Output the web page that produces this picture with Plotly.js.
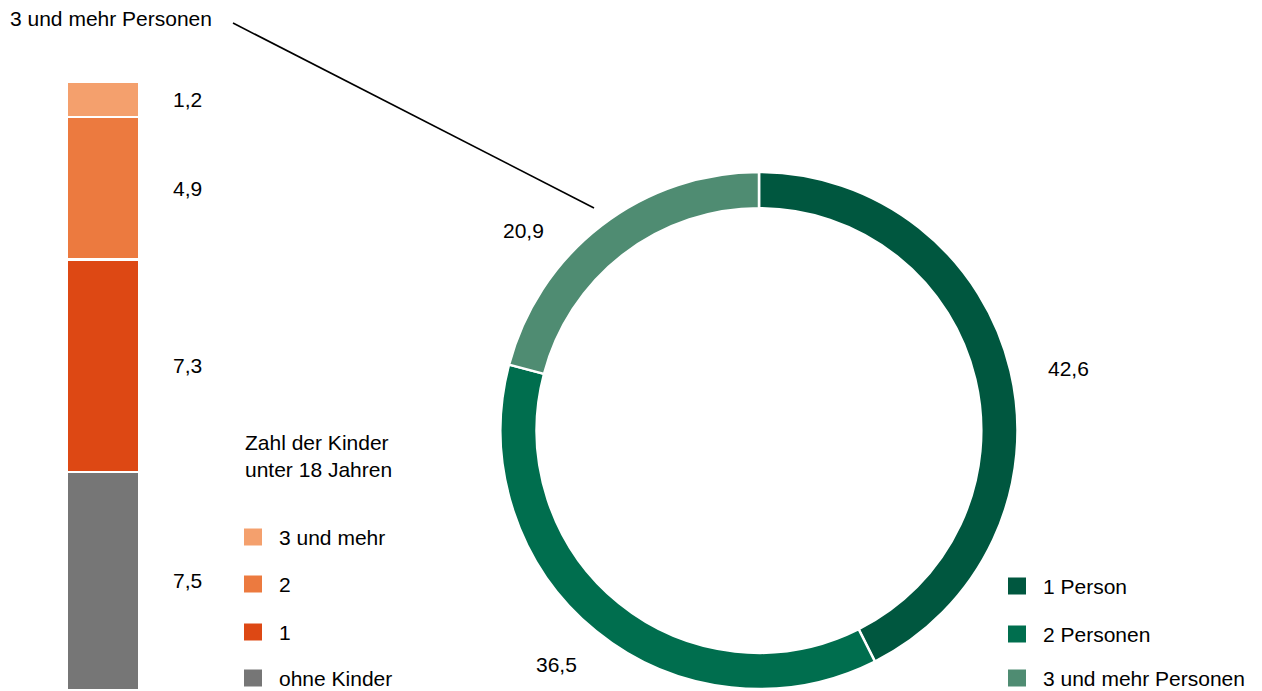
<!DOCTYPE html>
<html>
<head>
<meta charset="utf-8">
<script src="https://cdn.plot.ly/plotly-3.0.1.min.js"></script>
<style>html,body{margin:0;padding:0;background:#fff}#chart{width:1262px;height:691px}</style>
</head>
<body>
<div id="chart"></div>
<script>
// ---- data ----
const childCategories = ["ohne Kinder", "1", "2", "3 und mehr"];
const childValues = [7.5, 7.3, 4.9, 1.2];
const childColors = ["#767676", "#DD4814", "#EC7A3F", "#F4A06D"];
const childLegendTitle = "Zahl der Kinder<br>unter 18 Jahren";

const hhCategories = ["1 Person", "2 Personen", "3 und mehr Personen"];
const hhValues = [42.6, 36.5, 20.9];
const hhColors = ["#00573F", "#006E4E", "#4F8C72"];
const calloutLabel = "3 und mehr Personen";

// ---- layout helpers ----
const W = 1262, H = 691;
const FONT = "Liberation Sans, Arial, sans-serif";
const FS = 21;
const px = x => x / W;
const py = y => 1 - y / H;
const fmt = v => v.toFixed(1).replace(".", ",");

const traces = [];
// stacked bar
childCategories.forEach((c, i) => {
  traces.push({
    type: "bar", x: [0], y: [childValues[i]], name: c,
    marker: {color: childColors[i], line: {color: "#fff", width: 2.5}},
    width: 1, showlegend: false, hoverinfo: "name+y",
    xaxis: "x", yaxis: "y"
  });
});
// donut
traces.push({
  type: "pie", labels: hhCategories, values: hhValues,
  marker: {colors: hhColors, line: {color: "#fff", width: 2.5}},
  hole: 0.86, sort: false, direction: "clockwise", rotation: 0,
  textinfo: "none", showlegend: false,
  domain: {x: [px(759 - 258.5), px(759 + 258.5)], y: [py(430.5 + 258.5), py(430.5 - 258.5)]}
});

const annotations = [];
const shapes = [];
const total = childValues.reduce((a, b) => a + b, 0);
const txtFont = {family: FONT, size: FS, color: "#000"};

// bar value labels at segment centers
let cum = 0;
childValues.forEach(v => {
  annotations.push({
    xref: "x", yref: "y", x: 0.5, y: cum + v / 2, xshift: 32,
    text: fmt(v), showarrow: false, xanchor: "left", yanchor: "middle",
    font: txtFont
  });
  cum += v;
});

// bar legend
annotations.push({
  xref: "paper", yref: "paper", x: px(243), y: py(456), text: childLegendTitle,
  showarrow: false, xanchor: "left", yanchor: "middle", align: "left",
  font: txtFont
});
const barLegY = [678, 632, 584, 537];
childCategories.forEach((c, i) => {
  const yc = barLegY[i];
  shapes.push({type: "rect", xref: "paper", yref: "paper",
    x0: px(244), x1: px(262), y0: py(yc + 8.5), y1: py(yc - 8.5),
    fillcolor: childColors[i], line: {width: 0}});
  annotations.push({xref: "paper", yref: "paper", x: px(277), y: py(yc),
    text: c, showarrow: false, xanchor: "left", yanchor: "middle",
    font: txtFont});
});

// donut legend
const pieLegY = [586, 634, 678];
hhCategories.forEach((c, i) => {
  const yc = pieLegY[i];
  shapes.push({type: "rect", xref: "paper", yref: "paper",
    x0: px(1008), x1: px(1026), y0: py(yc + 8.5), y1: py(yc - 8.5),
    fillcolor: hhColors[i], line: {width: 0}});
  annotations.push({xref: "paper", yref: "paper", x: px(1041), y: py(yc),
    text: c, showarrow: false, xanchor: "left", yanchor: "middle",
    font: txtFont});
});

// donut value labels
const pieLabelPos = [[1068, 368], [556, 664], [523, 230]];
hhValues.forEach((v, i) => {
  annotations.push({xref: "paper", yref: "paper", x: px(pieLabelPos[i][0]), y: py(pieLabelPos[i][1]),
    text: fmt(v), showarrow: false, xanchor: "center", yanchor: "middle",
    font: txtFont});
});

// callout
annotations.push({xref: "paper", yref: "paper", x: px(8), y: py(19),
  text: calloutLabel, showarrow: false, xanchor: "left", yanchor: "middle",
  font: txtFont});
shapes.push({type: "line", xref: "paper", yref: "paper",
  x0: px(233), y0: py(23), x1: px(594), y1: py(208),
  line: {color: "#000", width: 1.6}});

const layout = {
  width: W, height: H, margin: {l: 0, r: 0, t: 0, b: 0},
  paper_bgcolor: "#fff", plot_bgcolor: "rgba(0,0,0,0)",
  barmode: "stack", showlegend: false,
  xaxis: {domain: [px(67), px(139)], range: [-0.5, 0.5], visible: false, fixedrange: true},
  yaxis: {domain: [py(690), py(82)], range: [0, total], visible: false, fixedrange: true},
  annotations: annotations, shapes: shapes,
  font: txtFont
};

Plotly.newPlot("chart", traces, layout, {displayModeBar: false, staticPlot: true});
</script>
</body>
</html>
